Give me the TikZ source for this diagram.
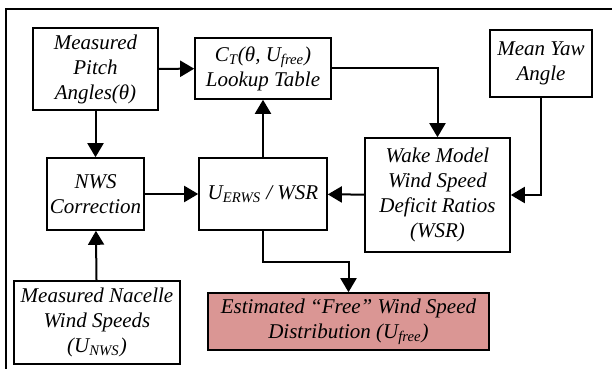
\documentclass[tikz,border=0pt]{standalone}
\usepackage{fontspec}
\setmainfont{Liberation Serif}
\usepackage{tikz}
\usetikzlibrary{calc,arrows.meta,positioning}
\definecolor{estRed}{RGB}{218,150,148}
\definecolor{lineBlack}{RGB}{0,0,0}

\tikzset{
    block/.style={draw=lineBlack, line width=0.8pt, fill=white, inner sep=0pt,
        align=center, font=\fontsize{10.5}{12.5}\selectfont\itshape},
    flow/.style={draw=lineBlack, line width=1pt, -{Triangle[length=7pt,width=8pt]}},
}

\begin{document}
\begin{tikzpicture}[x=0.5pt,y=-0.5pt]
\useasboundingbox (0,0) rectangle (612,369);

% =========================
% outer frame
% =========================
\draw[lineBlack, line width=1pt] (6,9) rectangle (630,390);

% =========================
% blocks
% =========================
\node[block, minimum width=62.5pt, minimum height=41pt] (pitch) at (95.5,69)
    {Measured\\Pitch\\Angles(θ)};
\node[block, minimum width=68pt, minimum height=30.5pt] (ctab) at (263,68.5)
    {C\textsubscript{T}(θ, U\textsubscript{free})\\Lookup Table};
\node[block, minimum width=51pt, minimum height=33.5pt] (yaw) at (541,63.5)
    {Mean Yaw\\Angle};
\node[block, minimum width=48.5pt, minimum height=36pt] (nws) at (95.5,194)
    {NWS\\Correction};
\node[block, minimum width=64pt, minimum height=36pt] (uerws) at (263,194)
    {U\textsubscript{ERWS} / WSR};
\node[block, minimum width=72.5pt, minimum height=57pt] (wake) at (437.5,195)
    {Wake Model\\Wind Speed\\Deficit Ratios\\(WSR)};
\node[block, minimum width=83pt, minimum height=41.5pt] (nacelle) at (97,322.5)
    {Measured Nacelle\\Wind Speeds\\(U\textsubscript{NWS})};
\node[block, fill=estRed, minimum width=140.5pt, minimum height=28.5pt] (est) at (348.5,321.5)
    {Estimated “Free” Wind Speed\\Distribution (U\textsubscript{free})};

% =========================
% connectors
% =========================
\draw[flow] (pitch) -- (ctab);
\draw[flow] (pitch) -- (nws);
\draw[flow] (nacelle) -- (nws);
\draw[flow] (nws) -- (uerws);
\draw[flow] (uerws) -- (ctab);
\draw[flow] (ctab.east) -| (wake.north);
\draw[flow] (yaw.south) |- (wake.east);
\draw[flow] (wake) -- (uerws);

% bend towards the estimate
\coordinate (bend) at (300,262);
\draw[flow] (uerws.south) |- (bend) -| (est.north);

\end{tikzpicture}
\end{document}
